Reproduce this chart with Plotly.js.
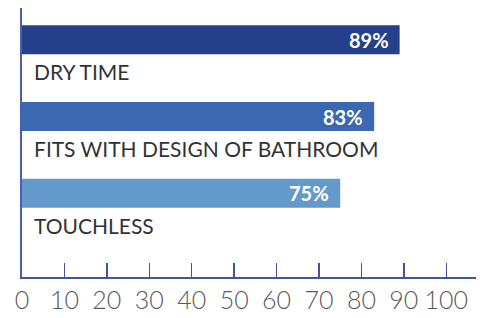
<!DOCTYPE html>
<html>
<head>
<meta charset="utf-8">
<script src="https://cdn.plot.ly/plotly-3.0.1.min.js"></script>
<style>html,body{margin:0;padding:0;background:#fff;}#chart{width:489px;height:318px;}</style>
</head>
<body>
<div id="chart"></div>
<script>
const categories = ["DRY TIME", "FITS WITH DESIGN OF BATHROOM", "TOUCHLESS"];
const values = [89, 83, 75];
const barColors = ["#27408b", "#3c67b1", "#6499cb"];
const tickValues = [0, 10, 20, 30, 40, 50, 60, 70, 80, 90, 100];

const trace = {
  type: "bar",
  orientation: "h",
  x: values,
  y: categories,
  marker: { color: barColors, line: { width: 0 } },
  width: 0.378,
  hoverinfo: "skip"
};

const annotations = [];
categories.forEach((c, i) => {
  annotations.push({
    x: 0, y: c, xref: "x", yref: "y",
    xanchor: "left", yanchor: "middle",
    xshift: 10, yshift: -32,
    text: c, showarrow: false,
    font: { family: "Lato, 'Open Sans', sans-serif", size: 21, color: "#333333" }
  });
  annotations.push({
    x: values[i], y: c, xref: "x", yref: "y",
    xanchor: "right", yanchor: "middle",
    xshift: -9, yshift: 0,
    text: values[i] + "%", showarrow: false,
    font: { family: "Lato, 'Open Sans', sans-serif", size: 20, color: "#ffffff", weight: 700 }
  });
});

const layout = {
  width: 489, height: 318,
  margin: { l: 22, r: 13, t: 8, b: 41, pad: 0 },
  paper_bgcolor: "#ffffff",
  plot_bgcolor: "#ffffff",
  showlegend: false,
  xaxis: {
    range: [0, 107],
    tickvals: tickValues,
    ticks: "inside", ticklen: 14, tickwidth: 1.5, tickcolor: "#3d55a3",
    showline: true, linecolor: "#3d55a3", linewidth: 2,
    showgrid: false, zeroline: false,
    ticklabelstandoff: 0,
    tickfont: { family: "Lato, 'Open Sans', sans-serif", size: 25, color: "#5a5a5a", weight: 300 },
    fixedrange: true
  },
  yaxis: {
    type: "category",
    range: [3.09, -0.414],
    showticklabels: false, ticks: "",
    showline: true, linecolor: "#4a62ad", linewidth: 2,
    showgrid: false, zeroline: false,
    fixedrange: true
  },
  annotations: annotations
};

Plotly.newPlot("chart", [trace], layout, { displayModeBar: false, staticPlot: true });
</script>
</body>
</html>
